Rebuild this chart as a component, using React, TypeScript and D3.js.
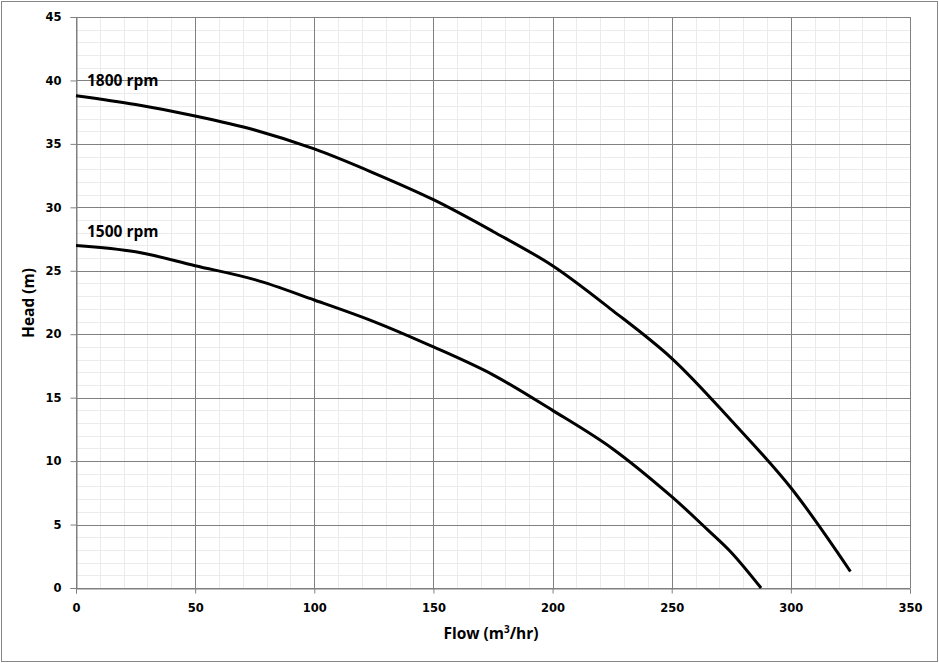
import { useEffect, useRef } from "react";
import * as d3 from "d3";

// pump curves: flow (m3/hr) vs head (m)
const flow1800 = [0, 25, 50, 75, 100, 125, 150, 175, 200, 225, 250, 275, 300, 325];
const head1800 = [38.8, 38.1, 37.2, 36.1, 34.6, 32.7, 30.6, 28.1, 25.4, 21.9, 18.1, 13.2, 7.9, 1.3];
const flow1500 = [0, 25, 50, 75, 100, 125, 150, 175, 200, 225, 250, 265, 275, 287.5];
const head1500 = [27.0, 26.5, 25.4, 24.3, 22.7, 21.0, 19.0, 16.8, 14.0, 11.0, 7.2, 4.6, 2.8, 0];
const seriesNames = ["1800 rpm", "1500 rpm"];
const labelHeads = [39.6, 27.7];
const xTicks = [0, 50, 100, 150, 200, 250, 300, 350];
const yTicks = [0, 5, 10, 15, 20, 25, 30, 35, 40, 45];

export default function App() {
  const svgRef = useRef<SVGSVGElement>(null);

  useEffect(() => {
    if (!svgRef.current) return;
    const W = 939, H = 663;
    const margin = { top: 17, right: 29, bottom: 75, left: 76 };
    const width = W - margin.left - margin.right;
    const height = H - margin.top - margin.bottom;

    const svg = d3.select(svgRef.current);
    svg.selectAll("*").remove();
    svg.attr("width", W).attr("height", H);

    svg.append("rect")
      .attr("x", 1.5).attr("y", 1.5)
      .attr("width", W - 3).attr("height", H - 3)
      .attr("fill", "white")
      .attr("stroke", "#868686");

    const g = svg.append("g").attr("transform", `translate(${margin.left},${margin.top})`);

    const x = d3.scaleLinear().domain([0, 350]).range([0, width]);
    const y = d3.scaleLinear().domain([0, 45]).range([height, 0]);

    // minor grid
    g.append("g").selectAll("line")
      .data(d3.range(0, 351, 10))
      .enter().append("line")
      .attr("x1", d => Math.round(x(d)) + 0.5).attr("x2", d => Math.round(x(d)) + 0.5)
      .attr("y1", 0).attr("y2", height)
      .attr("stroke", "#ebebeb");
    g.append("g").selectAll("line")
      .data(d3.range(0, 46, 1))
      .enter().append("line")
      .attr("y1", d => Math.round(y(d)) + 0.5).attr("y2", d => Math.round(y(d)) + 0.5)
      .attr("x1", 0).attr("x2", width)
      .attr("stroke", "#ebebeb");

    // major grid
    g.append("g").selectAll("line")
      .data(xTicks)
      .enter().append("line")
      .attr("x1", d => Math.round(x(d)) + 0.5).attr("x2", d => Math.round(x(d)) + 0.5)
      .attr("y1", 0).attr("y2", height)
      .attr("stroke", "#808080");
    g.append("g").selectAll("line")
      .data(yTicks)
      .enter().append("line")
      .attr("y1", d => Math.round(y(d)) + 0.5).attr("y2", d => Math.round(y(d)) + 0.5)
      .attr("x1", 0).attr("x2", width)
      .attr("stroke", "#808080");

    const xAxis = d3.axisBottom(x).tickValues(xTicks).tickSize(5).tickPadding(6);
    const yAxis = d3.axisLeft(y).tickValues(yTicks).tickSize(6).tickPadding(9);

    const gx = g.append("g").attr("transform", `translate(0,${Math.round(height) + 0.5})`).call(xAxis);
    const gy = g.append("g").attr("transform", `translate(0.5,0)`).call(yAxis);
    for (const ax of [gx, gy]) {
      ax.select(".domain").attr("stroke", "#808080");
      ax.selectAll("line").attr("stroke", "#808080");
      ax.selectAll("text")
        .attr("fill", "#000")
        .attr("font-family", "DejaVu Sans, Verdana, sans-serif")
        .attr("font-weight", "bold")
        .attr("font-size", 11.5);
    }
    gx.selectAll("text").attr("dy", "1.05em");

    // axis titles
    g.append("text")
      .attr("x", width / 2 - 2)
      .attr("y", height + 51)
      .attr("text-anchor", "middle")
      .attr("font-family", "Open Sans, Noto Sans, sans-serif")
      .attr("font-weight", "bold")
      .attr("font-size", 15.5)
      .call(t => {
        t.append("tspan").text("Flow (m");
        t.append("tspan").attr("dy", -6).attr("font-size", 10).text("3");
        t.append("tspan").attr("dy", 6).text("/hr)");
      });

    g.append("text")
      .attr("transform", "rotate(-90)")
      .attr("x", -(303 - margin.top))
      .attr("y", -margin.left + 34)
      .attr("text-anchor", "middle")
      .attr("font-family", "Open Sans, Noto Sans, sans-serif")
      .attr("font-weight", "bold")
      .attr("font-size", 15.5)
      .text("Head (m)");

    // curves
    const line = d3.line<[number, number]>()
      .x(d => x(d[0]))
      .y(d => y(d[1]))
      .curve(d3.curveCatmullRom.alpha(0.5));

    const curves: [number, number][][] = [
      flow1800.map((f, i) => [f, head1800[i]]),
      flow1500.map((f, i) => [f, head1500[i]]),
    ];

    g.selectAll("path.curve")
      .data(curves)
      .enter().append("path")
      .attr("class", "curve")
      .attr("fill", "none")
      .attr("stroke", "#000")
      .attr("stroke-width", 3)
      .attr("stroke-linejoin", "round")
      .attr("d", d => line(d));

    // curve labels
    g.selectAll("text.lbl")
      .data(seriesNames)
      .enter().append("text")
      .attr("class", "lbl")
      .attr("x", 11)
      .attr("y", (_, i) => y(labelHeads[i]))
      .attr("font-family", "Open Sans, Noto Sans, sans-serif")
      .attr("font-weight", "bold")
      .attr("font-size", 15.5)
      .text(d => d);
  }, []);

  return (
    <div style={{ position: "absolute", left: 0, top: 0 }}>
      <svg ref={svgRef} style={{ display: "block" }}></svg>
    </div>
  );
}
